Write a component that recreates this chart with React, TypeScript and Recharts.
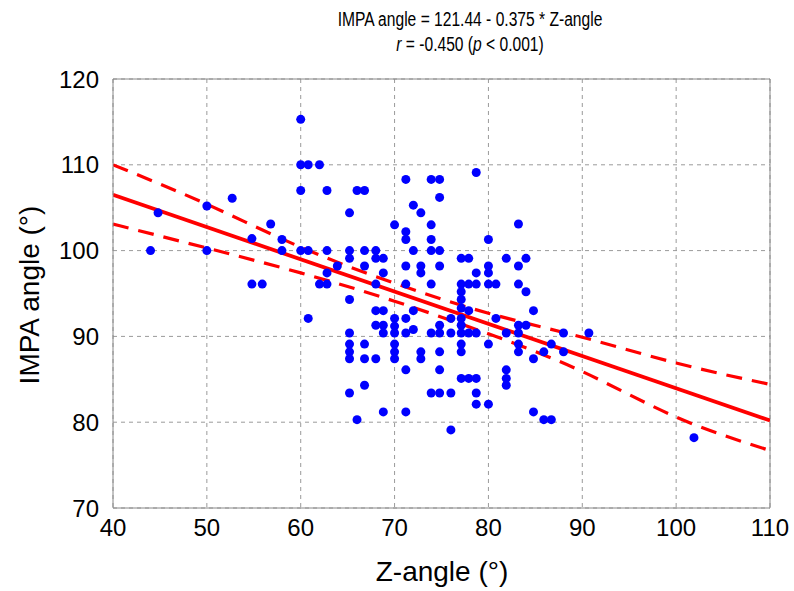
import { ComposedChart, Scatter, Line, XAxis, YAxis, CartesianGrid, ReferenceLine } from 'recharts'

// points left of the dense cluster
const zLeft = [44, 44.8, 50, 50, 52.7, 54.8, 54.8, 55.9, 56.8, 58, 58, 60, 60, 60.8, 62, 60, 62.8, 60, 60.8, 62.8, 63.9, 62.8, 62, 62.8, 60.8]
const impaLeft = [100, 104.4, 105.2, 100, 106.1, 101.4, 96.1, 96.1, 103.1, 101.3, 100, 115.3, 110, 110, 110, 107, 107, 100, 100, 100, 98.2, 97.4, 96.1, 96.1, 92.1]

// the rest, one column of dots per Z-angle
const zCols = [65.2, 66, 66.8, 68, 68.8, 70, 71.2, 72, 72.8, 73.9, 74.8, 76, 77.1, 77.9, 78.7, 80, 80.8, 81.9, 83.2, 84, 84.8, 85.9, 86.7, 88, 90.7, 101.9]
const impaCols = [
  [104.4, 100, 99.1, 94.3, 90.4, 89.1, 88.2, 87.4, 83.4],
  [107, 80.3],
  [107, 100, 98.2, 89.1, 87.4, 84.3],
  [100, 99.1, 96.1, 93, 91.3, 87.4],
  [99.1, 97.4, 93, 91.3, 90.4, 81.2],
  [103, 92.1, 91.2, 90.4, 89.1, 88.2, 87.4],
  [108.3, 102.2, 101.3, 98.2, 96.1, 92.1, 90.4, 86.1, 81.2],
  [105.3, 100, 93, 90.8],
  [104.4, 98.2, 97.4, 88.2, 87.4],
  [108.3, 103, 101.3, 100, 96.1, 90.4, 83.4],
  [108.3, 106.2, 100, 98.2, 91.3, 90.4, 88.2, 86.1, 83.4],
  [92.1, 90.4, 83.4, 79.1],
  [99.1, 96.1, 95.2, 94.3, 93.3, 92.1, 91.3, 90.4, 89.1, 88.2, 85.1],
  [99.1, 96.1, 93, 90.4, 85.1],
  [109.1, 97.4, 96.1, 90.4, 85.1, 83.4, 82.1],
  [101.3, 98.2, 97.4, 96.1, 89.1, 82.1],
  [96.1, 92.1],
  [99.1, 90.4, 86.1, 85.1, 84.3],
  [103.1, 98.2, 96.1, 91.3, 90.4, 89.1, 88.2],
  [99.1, 95.2, 91.3],
  [93, 87.4, 81.2],
  [88.2, 80.3],
  [89.1, 80.3],
  [90.4, 88.2],
  [90.4],
  [78.2],
]

// fit line and 95% band
const fitX = [40, 110]
const fitY = [106.5, 80.2]
const bandX = [40, 50, 60, 70, 80, 90, 100, 110]
const bandUpper = [110.0, 105.4, 100.4, 96.2, 92.7, 89.9, 86.9, 84.4]
const bandLower = [103.1, 100.3, 97.4, 94.1, 90.3, 85.9, 80.6, 76.7]

const xTicks = [40, 50, 60, 70, 80, 90, 100, 110]
const yTicks = [70, 80, 90, 100, 110, 120]

const points = [
  ...zLeft.map((x, i) => ({ x, y: impaLeft[i] })),
  ...zCols.flatMap((x, i) => impaCols[i].map(y => ({ x, y }))),
]
const fitData = fitX.map((x, i) => ({ x, y: fitY[i] }))
const upperData = bandX.map((x, i) => ({ x, y: bandUpper[i] }))
const lowerData = bandX.map((x, i) => ({ x, y: bandLower[i] }))

const font = '"Liberation Sans", Arial, sans-serif'
const tick = { fontSize: 24, fill: '#000', fontFamily: font }
const red = '#ff0000'

export default function App() {
  return (
    <div style={{ position: 'absolute', left: 0, top: 0, width: 794, height: 591, background: '#fff', fontFamily: font }}>
      <div style={{ position: 'absolute', left: 270, width: 400, top: 7, textAlign: 'center', fontSize: 20, lineHeight: '25px', color: '#000', transform: 'scaleX(0.78)' }}>
        <div>IMPA angle = 121.44 - 0.375 * Z-angle</div>
        <div><i>r</i> = -0.450 (<i>p</i> &lt; 0.001)</div>
      </div>
      <div style={{ position: 'absolute', left: 0, top: 556, width: 794, paddingLeft: 90, boxSizing: 'border-box', textAlign: 'center', fontSize: 28, color: '#000' }}>
        Z-angle (°)
      </div>
      <div style={{ position: 'absolute', left: 30, top: 296, width: 0, height: 0 }}>
        <div style={{ position: 'absolute', left: -120, top: -17, width: 240, textAlign: 'center', fontSize: 28, color: '#000', transform: 'rotate(-90deg)', whiteSpace: 'nowrap' }}>
          IMPA angle (°)
        </div>
      </div>
      <ComposedChart width={794} height={591} margin={{ top: 79, right: 24, bottom: 43, left: 53 }} style={{ position: 'absolute', left: 0, top: 0 }}>
        <CartesianGrid strokeDasharray="4 4" stroke="#9a9a9a" />
        <XAxis dataKey="x" type="number" domain={[40, 110]} ticks={xTicks} allowDataOverflow
          height={40} tick={tick} tickLine={false} tickMargin={5} axisLine={{ stroke: '#888' }} />
        <YAxis dataKey="y" type="number" domain={[70, 120]} ticks={yTicks} allowDataOverflow
          width={60} tick={tick} tickLine={false} tickMargin={8} axisLine={{ stroke: '#888' }} />
        <ReferenceLine y={120} stroke="#888" />
        <ReferenceLine x={110} stroke="#888" />
        <Scatter data={points} isAnimationActive={false}
          shape={(p: any) => <circle cx={p.cx} cy={p.cy} r={4.5} fill="#0000ff" />} />
        <Line data={fitData} dataKey="y" type="linear" stroke={red} strokeWidth={3.8} dot={false} isAnimationActive={false} />
        <Line data={upperData} dataKey="y" type="natural" stroke={red} strokeWidth={3.2} strokeDasharray="16 10" dot={false} isAnimationActive={false} />
        <Line data={lowerData} dataKey="y" type="natural" stroke={red} strokeWidth={3.2} strokeDasharray="16 10" dot={false} isAnimationActive={false} />
      </ComposedChart>
    </div>
  )
}
